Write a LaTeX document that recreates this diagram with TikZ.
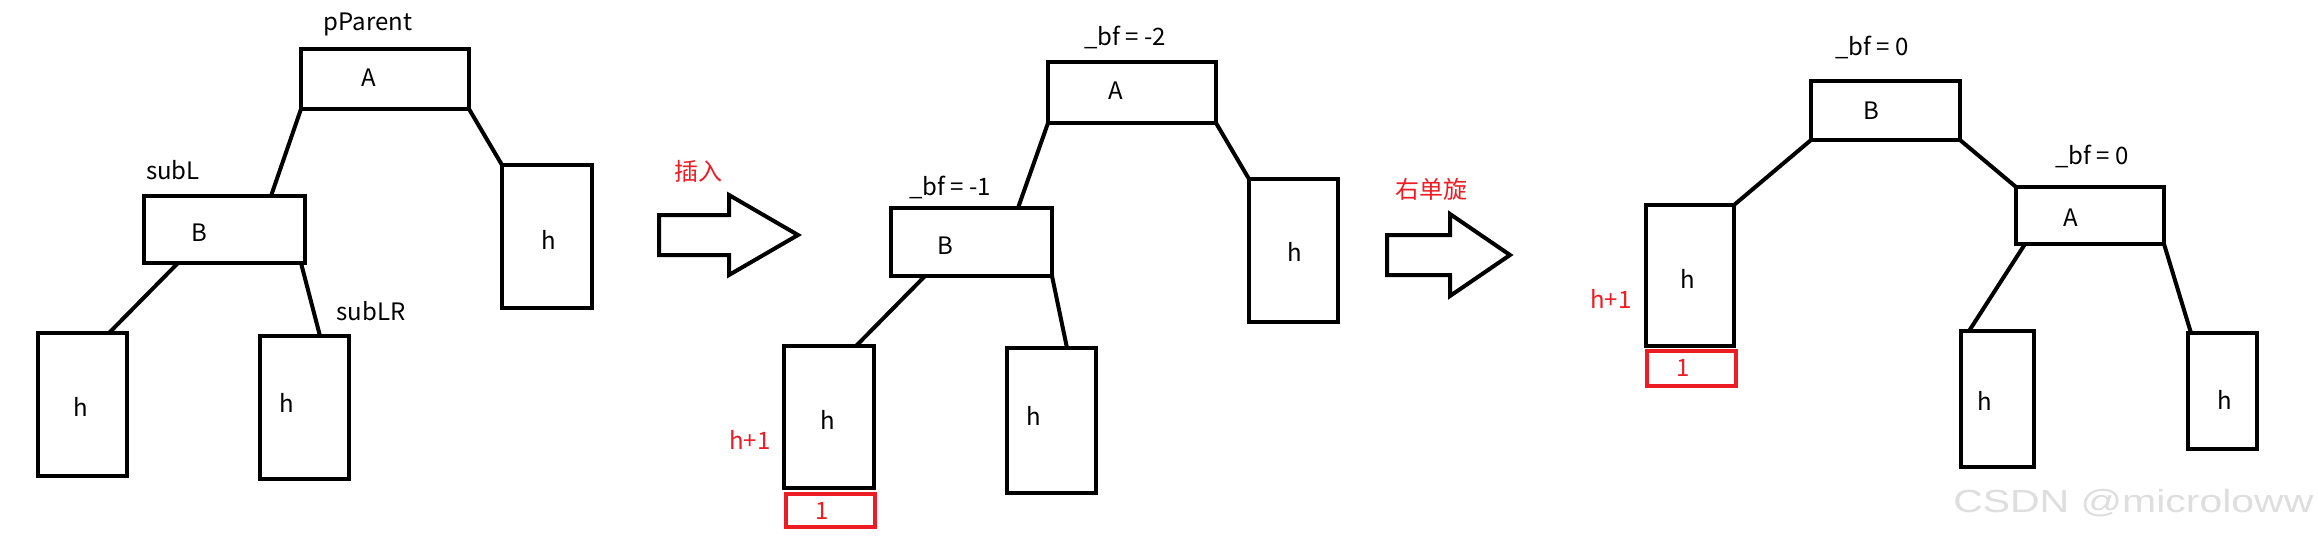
\documentclass[tikz,border=0pt]{standalone}
\usepackage{fontspec}
\setmainfont{Noto Sans CJK SC}
\newfontfamily\wmfont{Liberation Sans}
\usetikzlibrary{calc}
\definecolor{pred}{RGB}{237,28,36}
\definecolor{wmgray}{RGB}{222,222,222}
\tikzset{
  box/.style={draw=black, line width=4pt, inner sep=0pt, outer sep=0pt, anchor=north west},
  redbox/.style={draw=pred, line width=4pt, inner sep=0pt, outer sep=0pt, anchor=north west},
  lbl/.style={font=\fontsize{24}{28}\selectfont, inner sep=0pt, text=black},
  rlbl/.style={font=\fontsize{24}{28}\selectfont, inner sep=0pt, text=pred},
  edge/.style={line width=4pt, line cap=round},
  bigarrow/.style={draw=black, line width=4pt, line join=miter, fill=white}
}
\begin{document}
\begin{tikzpicture}[x=1pt,y=-1pt]
\useasboundingbox[fill=white] (0,0) rectangle (2318,546);

% ---------------- Panel 1 ----------------
\node[box, minimum width=168, minimum height=60] (A1) at (301,49) {};
\node[box, minimum width=90, minimum height=143] (R1) at (502,165) {};
\node[box, minimum width=161, minimum height=67] (B1) at (144,196) {};
\node[box, minimum width=89, minimum height=143] (L1) at (38,333) {};
\node[box, minimum width=89, minimum height=143] (M1) at (260,336) {};
\node[lbl] (tA1) at (369,78) {A};
\node[lbl] (tR1) at (549,240) {h};
\node[lbl] (tB1) at (199,233) {B};
\node[lbl] (tL1) at (81,407) {h};
\node[lbl] (tM1) at (287,403) {h};
\node[lbl] (pp) at (368,24) {pParent};
\node[lbl] (sl) at (173,170) {subL};
\node[lbl] (slr) at (371,311) {subLR};
\draw[edge] (A1.south west) -- ([xshift=127]B1.north west);
\draw[edge] (A1.south east) -- (R1.north west);
\draw[edge] ([xshift=34]B1.south west) -- ([xshift=71]L1.north west);
\draw[edge] ([xshift=157]B1.south west) -- ([xshift=60]M1.north west);

% arrow 1
\draw[bigarrow] (659,215) -- (729,215) -- (729,195) -- (798,235) -- (729,275) -- (729,255) -- (659,255) -- cycle;
\node[rlbl] (ins) at (698,171) {插入};

% ---------------- Panel 2 ----------------
\node[box, minimum width=168, minimum height=61] (A2) at (1048,62) {};
\node[box, minimum width=161, minimum height=68] (B2) at (891,208) {};
\node[box, minimum width=89, minimum height=143] (R2) at (1249,179) {};
\node[box, minimum width=90, minimum height=142] (L2) at (784,346) {};
\node[redbox, minimum width=89, minimum height=33] (RL2) at (786,494) {};
\node[box, minimum width=89, minimum height=145] (M2) at (1007,348) {};
\node[lbl] (tA2) at (1116,91) {A};
\node[lbl] (tB2) at (945,246) {B};
\node[lbl] (tR2) at (1295,252) {h};
\node[lbl] (tL2) at (828,420) {h};
\node[lbl] (tM2) at (1034,416) {h};
\node[rlbl] (one2) at (822,511) {1};
\node[rlbl] (hp2) at (750,440) {h+1};
\node[lbl] (bfA2) at (1125,37) {\_bf = -2};
\node[lbl] (bfB2) at (950,187) {\_bf = -1};
\draw[edge] (A2.south west) -- ([xshift=127]B2.north west);
\draw[edge] (A2.south east) -- (R2.north west);
\draw[edge] ([xshift=34]B2.south west) -- ([xshift=72]L2.north west);
\draw[edge] (B2.south east) -- ([xshift=60]M2.north west);

% arrow 2
\draw[bigarrow] (1387,235) -- (1450,235) -- (1450,214) -- (1510,255) -- (1450,296) -- (1450,275) -- (1387,275) -- cycle;
\node[rlbl] (rot) at (1431,189) {右单旋};

% ---------------- Panel 3 ----------------
\node[box, minimum width=149, minimum height=59] (B3) at (1811,81) {};
\node[box, minimum width=148, minimum height=57] (A3) at (2016,187) {};
\node[box, minimum width=88, minimum height=141] (H3) at (1646,205) {};
\node[redbox, minimum width=89, minimum height=35] (RH3) at (1647,351) {};
\node[box, minimum width=73, minimum height=136] (LA3) at (1961,331) {};
\node[box, minimum width=69, minimum height=116] (RA3) at (2188,333) {};
\node[lbl] (tB3) at (1871,111) {B};
\node[lbl] (tA3) at (2071,218) {A};
\node[lbl] (tH3) at (1688,279) {h};
\node[lbl] (tLA3) at (1985,401) {h};
\node[lbl] (tRA3) at (2225,400) {h};
\node[rlbl] (one3) at (1683,368) {1};
\node[rlbl] (hp3) at (1611,299) {h+1};
\node[lbl] (bfB3) at (1872,47) {\_bf = 0};
\node[lbl] (bfA3) at (2092,156) {\_bf = 0};
\draw[edge] (B3.south west) -- (H3.north east);
\draw[edge] (B3.south east) -- (A3.north west);
\draw[edge] ([xshift=9]A3.south west) -- ([xshift=8]LA3.north west);
\draw[edge] (A3.south east) -- ([xshift=3]RA3.north west);

% watermark
\node[font=\wmfont\fontsize{32}{36}\selectfont, text=wmgray, anchor=west, inner sep=0pt, xscale=1.28] (wm) at (1953,503) {CSDN @microloww};
\end{tikzpicture}
\end{document}
